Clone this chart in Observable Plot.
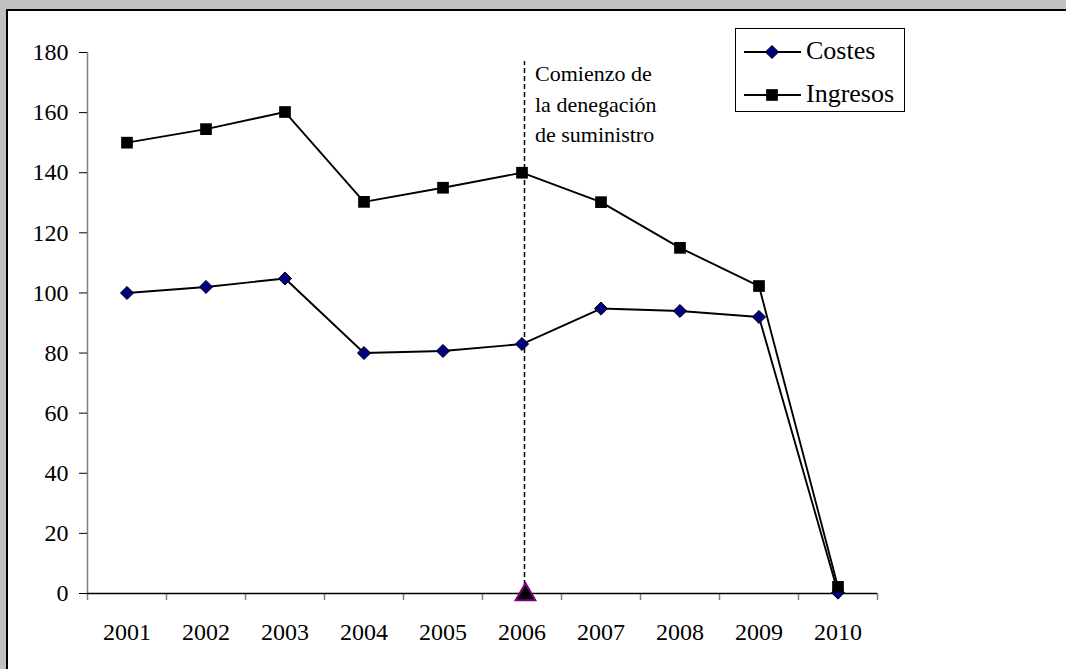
<!DOCTYPE html>
<html>
<head>
<meta charset="utf-8">
<script src="https://cdn.jsdelivr.net/npm/d3@7"></script>
<script src="https://cdn.jsdelivr.net/npm/@observablehq/plot@0.6"></script>
<style>
  html, body { margin: 0; padding: 0; background: #c0c0c0; overflow: hidden; width: 1066px; height: 669px; }
  #panel { position: absolute; left: 6px; top: 9px; width: 1060px; height: 660px; background: #fff;
           border-top: 2px solid #000; border-left: 2px solid #000; }
  #chart { position: absolute; left: 0; top: 0; }
  #legend { position: absolute; left: 735px; top: 28px; width: 168px; height: 82px; border: 1px solid #000;
            background: #fff; font-family: "Liberation Serif", "Times New Roman", serif; font-size: 26px; }
  .row { position: absolute; left: 0; height: 30px; width: 168px; }
  .row svg { position: absolute; left: 7px; top: 0; }
  .row span { position: absolute; left: 70px; top: -1px; line-height: 30px; }
</style>
</head>
<body>
<div id="panel"></div>
<div id="chart"></div>
<div id="legend">
  <div class="row" style="top:8px"><svg width="60" height="30" id="lg1"></svg><span>Costes</span></div>
  <div class="row" style="top:51px"><svg width="60" height="30" id="lg2"></svg><span>Ingresos</span></div>
</div>
<script>
// ---- data ----
const years = [2001, 2002, 2003, 2004, 2005, 2006, 2007, 2008, 2009, 2010];
const costes = [100, 102, 104.8, 80, 80.7, 83, 94.8, 94, 92, 0.3];
const ingresos = [150, 154.5, 160.2, 130.3, 135, 140, 130.2, 115, 102.3, 2.2];
const yTicks = [0, 20, 40, 60, 80, 100, 120, 140, 160, 180];
const seriesNames = ["Costes", "Ingresos"];
const annotationYear = 2006;
const annotationLines = ["Comienzo de", "la denegación", "de suministro"];
const markerYear = [2006];
const markerValue = [0];

// ---- tables ----
const costesData = years.map((year, i) => ({year, value: costes[i]}));
const ingresosData = years.map((year, i) => ({year, value: ingresos[i]}));
const boundaries = years.map(y => y - 0.5).concat([years[years.length - 1] + 0.5]);
const xDomain = [boundaries[0], boundaries[boundaries.length - 1]];
const markerData = markerYear.map((year, i) => ({year, value: markerValue[i]}));

const font = "Liberation Serif";

const chart = Plot.plot({
  width: 1066,
  height: 669,
  marginLeft: 87,
  marginRight: 189,
  marginTop: 52,
  marginBottom: 76,
  x: {domain: xDomain, label: null},
  y: {domain: [yTicks[0], yTicks[yTicks.length - 1]], label: null},
  style: {background: "transparent", fontFamily: font, fontSize: "24px", color: "black", overflow: "visible"},
  marks: [
    Plot.axisX({ticks: boundaries, tickSize: 7, tickFormat: () => "", stroke: "#808080", strokeWidth: 1.5, label: null}),
    Plot.axisX({ticks: years, tickSize: 0, tickPadding: 29, tickFormat: d => String(d), fontSize: 24, fontFamily: font, label: null}),
    Plot.ruleX([xDomain[0]], {y1: yTicks[0], y2: yTicks[yTicks.length - 1], stroke: "#808080", strokeWidth: 1.5}),
    Plot.ruleY([0], {x1: xDomain[0], x2: xDomain[1], stroke: "black", strokeWidth: 1.5}),
    Plot.axisY({ticks: yTicks, tickSize: 8, tickPadding: 11, stroke: "black", fontSize: 24, fontFamily: font, label: null}),
    Plot.ruleX([annotationYear], {y1: 0, y2: 177, stroke: "black", strokeWidth: 1.5, strokeDasharray: "5,3", dx: 2.5}),
    Plot.text([annotationLines.join("\n")], {
      x: () => annotationYear, y: () => 180, text: d => d,
      textAnchor: "start", lineAnchor: "top", dx: 13, dy: 7, fontSize: 22, fontFamily: font, lineHeight: 1.39, fill: "black"
    }),
    Plot.line(costesData, {x: "year", y: "value", stroke: "black", strokeWidth: 1.9}),
    Plot.dot(costesData, {x: "year", y: "value", symbol: "diamond2", r: 5.9, fill: "#000080", stroke: "black", strokeWidth: 1}),
    Plot.line(ingresosData, {x: "year", y: "value", stroke: "black", strokeWidth: 1.9}),
    Plot.dot(ingresosData, {x: "year", y: "value", symbol: "square", r: 6.6, fill: "black", stroke: "none"}),
    Plot.dot(markerData, {x: "year", y: "value", symbol: "triangle", r: 7.3, fill: "black", stroke: "#800080", strokeWidth: 2, dx: 3.5, dy: 1})
  ]
});
document.getElementById("chart").appendChild(chart);

// ---- legend samples ----
function drawSample(id, type, fill, size) {
  const svg = d3.select("#" + id);
  svg.append("line").attr("x1", 1).attr("x2", 58).attr("y1", 15).attr("y2", 15)
     .attr("stroke", "black").attr("stroke-width", 1.9);
  svg.append("path").attr("d", d3.symbol(type, size)())
     .attr("transform", "translate(29,15)")
     .attr("fill", fill).attr("stroke", type === d3.symbolDiamond2 ? "black" : "none").attr("stroke-width", 1);
}
drawSample("lg1", d3.symbolDiamond2, "#000080", Math.PI * 5.9 * 5.9);
drawSample("lg2", d3.symbolSquare, "black", Math.PI * 6.6 * 6.6);
</script>
</body>
</html>
